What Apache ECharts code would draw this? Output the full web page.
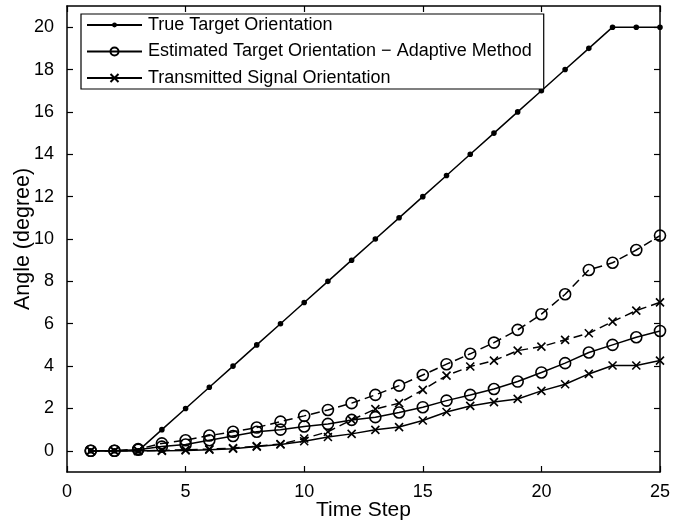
<!DOCTYPE html>
<html>
<head>
<meta charset="utf-8">
<script src="https://cdn.jsdelivr.net/npm/echarts@6/dist/echarts.min.js"></script>
<style>html,body{margin:0;padding:0;background:#fff}#c{width:684px;height:525px}</style>
</head>
<body>
<div id="c"></div>
<script>
var steps = [1,2,3,4,5,6,7,8,9,10,11,12,13,14,15,16,17,18,19,20,21,22,23,24,25];
var trueOrient = [0,0,0,1,2,3,4,5,6,7,8,9,10,11,12,13,14,15,16,17,18,19,20,20,20];
var estAdaptive = [0,0,0.05,0.2,0.3,0.5,0.7,0.9,1.0,1.15,1.27,1.46,1.59,1.81,2.06,2.37,2.64,2.92,3.27,3.70,4.14,4.64,5.0,5.36,5.66];
var estOther = [0,0,0.08,0.35,0.5,0.72,0.9,1.1,1.38,1.65,1.93,2.25,2.64,3.08,3.58,4.09,4.58,5.11,5.71,6.45,7.39,8.54,8.88,9.48,10.16];
var transAdaptive = [0,0,0,0,0.02,0.05,0.1,0.2,0.3,0.45,0.65,0.8,0.99,1.12,1.43,1.83,2.12,2.3,2.45,2.83,3.14,3.63,4.03,4.03,4.26];
var transOther = [0,0,0,0.02,0.05,0.08,0.13,0.22,0.32,0.58,0.9,1.46,1.97,2.25,2.88,3.55,3.98,4.26,4.73,4.92,5.24,5.55,6.1,6.62,7.01];
var xTicks = [0,5,10,15,20,25];
var yTicks = [0,2,4,6,8,10,12,14,16,18,20];
var names = ['True Target Orientation','Estimated Target Orientation \u2212 Adaptive Method','Transmitted Signal Orientation'];

function pairs(v){ return steps.map(function(s,i){ return [s, v[i]]; }); }
var FONT = 'Liberation Sans, Arial, sans-serif';
var crossSym = 'path://M0,0L10,10M10,0L0,10';
var dotLegendIcon = 'path://M0,5L25.6,5M28.4,5A1.4,1.4,0,1,1,25.6,5A1.4,1.4,0,1,1,28.4,5M28.4,5L54,5';

function mk(name, data, symbol, size, dashed, filled){
  return {
    name: name, type: 'line', data: pairs(data),
    symbol: symbol, symbolSize: size, showAllSymbol: true,
    lineStyle: {color:'#000', width: 1.5, type: dashed ? [9,5] : 'solid'},
    itemStyle: {color: filled ? '#000' : 'rgba(0,0,0,0)', borderColor:'#000', borderWidth: 1.6},
    emphasis: {disabled: true}, animation: false, z: 3
  };
}

var chart = echarts.init(document.getElementById('c'), null, {renderer:'canvas'});
var axisCommon = {
  axisLine: {show:true, onZero:false, lineStyle:{color:'#000', width:1.5}},
  splitLine: {show:false}
};
chart.setOption({
  backgroundColor: '#fff',
  animation: false,
  grid: {left: 67, right: 24, top: 6, bottom: 53, containLabel: false, outerBoundsMode: 'none'},
  legend: {
    data: [
      {name: names[0], icon: dotLegendIcon},
      {name: names[1]},
      {name: names[2]}
    ],
    orient: 'vertical', left: 81, top: 14,
    padding: [2, 12, 2, 5],
    itemGap: 8.5, itemWidth: 55, itemHeight: 10,
    backgroundColor: '#fff', borderColor: '#000', borderWidth: 1.2,
    textStyle: {fontFamily: FONT, fontSize: 18, color:'#000', padding:[0,0,0,1]},
    selectedMode: false
  },
  xAxis: [
    Object.assign({type:'value', min:0, max:25, position:'bottom',
      name:'Time Step', nameLocation:'middle', nameGap: 28, nameMoveOverlap: false,
      nameTextStyle:{fontFamily:FONT, fontSize:21, color:'#000'},
      axisTick:{show:true, inside:true, length:6, customValues:xTicks, lineStyle:{color:'#000', width:1.2}},
      axisLabel:{show:true, customValues:xTicks, margin:11, fontFamily:FONT, fontSize:18, color:'#000'}
    }, axisCommon),
    Object.assign({type:'value', min:0, max:25, position:'top',
      axisTick:{show:true, inside:true, length:6, customValues:xTicks, lineStyle:{color:'#000', width:1.2}},
      axisLabel:{show:false}
    }, axisCommon)
  ],
  yAxis: [
    Object.assign({type:'value', min:-1, max:21, position:'left',
      name:'Angle (degree)', nameLocation:'middle', nameGap: 33, nameRotate: 90, nameMoveOverlap: false,
      nameTextStyle:{fontFamily:FONT, fontSize:21.5, color:'#000'},
      axisTick:{show:true, inside:true, length:6, customValues:yTicks, lineStyle:{color:'#000', width:1.2}},
      axisLabel:{show:true, customValues:yTicks, margin:13, fontFamily:FONT, fontSize:18, color:'#000'}
    }, axisCommon),
    Object.assign({type:'value', min:-1, max:21, position:'right',
      axisTick:{show:true, inside:true, length:6, customValues:yTicks, lineStyle:{color:'#000', width:1.2}},
      axisLabel:{show:false}
    }, axisCommon)
  ],
  series: [
    mk(names[0], trueOrient, 'circle', 4, false, true),
    mk(names[1], estAdaptive, 'circle', 11, false, false),
    mk(names[2], transAdaptive, crossSym, 8, false, false),
    mk('Estimated Target Orientation (dashed)', estOther, 'circle', 11, true, false),
    mk('Transmitted Signal Orientation (dashed)', transOther, crossSym, 8, true, false)
  ]
});
</script>
</body>
</html>
